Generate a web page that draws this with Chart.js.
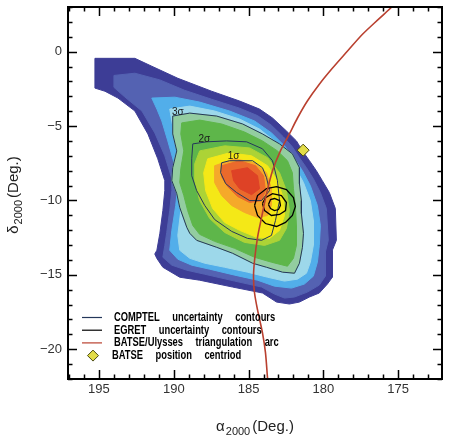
<!DOCTYPE html>
<html><head><meta charset="utf-8">
<script src="https://cdn.jsdelivr.net/npm/chart.js@4.4.1/dist/chart.umd.min.js"></script>
<style>html,body{margin:0;padding:0;background:#fff;}</style>
</head><body>
<canvas id="c" width="449" height="441"></canvas>
<script>
// ---- axis ticks ----
const xTicks = [195, 190, 185, 180, 175];
const yTicks = [0, -5, -10, -15, -20];

// ---- filled probability bands [RA, Dec], outermost first ----
const bandIndigo = [[195.27,-0.45],[192.6,-0.45],[191.47,-0.98],[189.73,-1.79],[187.47,-2.66],[185.6,-3.32],[184.27,-3.86],[183.4,-4.46],[182.47,-5.33],[181.8,-6.0],[181.4,-6.67],[180.93,-7.33],[180.47,-8.0],[180.07,-8.67],[179.6,-9.47],[179.2,-10.54],[179.13,-12.68],[179.4,-13.35],[179.4,-15.16],[179.73,-15.62],[180.27,-16.22],[180.93,-16.49],[181.6,-16.83],[182.27,-16.96],[183.13,-16.83],[184.07,-16.22],[186.07,-15.82],[188.27,-15.36],[189.6,-15.16],[190.73,-14.49],[191.13,-13.9],[191.27,-13.6],[191.13,-13.35],[190.93,-12.21],[190.73,-10.68],[190.6,-9.34],[190.6,-8.67],[191.07,-7.2],[191.73,-5.53],[192.6,-3.99],[193.73,-3.12],[194.6,-2.66],[195.27,-2.45]];
const bandSlate = [[194.0,-1.6],[192.6,-1.45],[190.93,-1.9],[189.27,-2.6],[187.47,-3.2],[185.6,-3.8],[184.4,-4.3],[183.47,-4.95],[182.67,-5.73],[182.07,-6.4],[181.6,-7.13],[181.13,-7.8],[180.67,-8.54],[180.2,-9.47],[179.8,-10.54],[179.67,-12.68],[179.87,-13.48],[179.87,-15.09],[180.27,-15.69],[181.07,-16.16],[181.93,-16.49],[182.6,-16.56],[183.27,-16.29],[184.13,-15.82],[185.93,-15.42],[187.93,-14.96],[189.13,-14.69],[190.13,-14.35],[190.73,-13.82],[190.6,-13.02],[190.47,-12.15],[190.27,-10.68],[190.13,-9.34],[190.13,-8.54],[190.6,-7.0],[191.27,-5.46],[192.13,-3.99],[193.27,-3.05],[194.0,-2.4]];
const bandLightBlue = [[191.47,-3.12],[189.93,-3.06],[188.27,-3.39],[186.27,-3.99],[184.6,-4.66],[183.47,-5.46],[182.6,-6.33],[181.93,-7.2],[181.4,-8.0],[180.87,-9.01],[180.4,-10.34],[180.2,-11.68],[180.27,-13.02],[180.4,-14.15],[180.67,-15.09],[181.27,-15.62],[182.13,-15.89],[183.27,-15.76],[184.4,-15.36],[185.93,-15.02],[187.6,-14.62],[188.8,-14.35],[189.73,-13.95],[190.27,-13.35],[190.13,-12.01],[189.87,-10.34],[189.73,-9.01],[189.93,-7.67],[190.4,-6.0],[190.8,-4.66],[191.13,-3.86]];
const bandCyan = [[190.27,-3.86],[188.93,-3.66],[187.27,-3.99],[185.6,-4.53],[184.27,-5.2],[183.27,-6.0],[182.47,-6.87],[181.87,-7.8],[181.33,-8.8],[180.87,-10.01],[180.67,-11.34],[180.67,-13.02],[180.87,-14.15],[181.13,-14.89],[181.73,-15.29],[182.6,-15.42],[183.73,-15.16],[185.07,-14.82],[186.6,-14.49],[187.93,-14.22],[188.93,-13.89],[189.6,-13.35],[189.73,-12.35],[189.53,-10.68],[189.33,-9.34],[189.47,-7.87],[189.87,-6.0],[190.13,-4.66]];
const bandGreen = [[189.47,-4.79],[188.27,-4.6],[186.8,-4.86],[185.27,-5.4],[184.07,-6.0],[183.07,-6.67],[182.4,-7.33],[182.07,-8.14],[182.0,-9.21],[181.87,-10.34],[181.8,-11.68],[181.8,-13.02],[182.0,-13.89],[182.4,-14.42],[183.47,-14.15],[184.6,-13.82],[185.93,-13.22],[187.27,-12.75],[188.27,-12.28],[188.73,-11.68],[189.07,-10.68],[189.33,-9.67],[189.6,-8.8],[189.53,-7.87],[189.33,-6.67],[189.53,-5.53]];
const bandLime = [[188.27,-6.67],[186.6,-6.33],[184.93,-6.47],[183.73,-7.13],[182.93,-8.14],[182.47,-9.34],[182.27,-10.68],[182.47,-11.88],[182.93,-12.68],[183.93,-13.02],[185.27,-12.82],[186.6,-12.15],[187.6,-11.21],[188.27,-10.01],[188.6,-8.67],[188.6,-7.54]];
const bandYellow = [[187.73,-7.2],[186.27,-6.8],[184.8,-7.0],[183.73,-7.67],[183.07,-8.67],[182.67,-9.87],[182.6,-11.01],[182.93,-12.01],[183.6,-12.55],[184.47,-12.48],[185.6,-12.01],[186.6,-11.48],[187.4,-10.54],[187.87,-9.34],[188.0,-8.14]];
const bandOrange = [[187.27,-7.67],[185.93,-7.2],[184.6,-7.47],[183.8,-8.14],[183.47,-9.21],[183.47,-10.34],[183.73,-11.01],[184.4,-11.14],[185.27,-10.81],[186.13,-10.34],[186.8,-9.67],[187.27,-8.8]];
const bandRedOrange = [[186.8,-7.67],[185.6,-7.33],[184.53,-7.67],[184.0,-8.34],[183.87,-9.34],[184.13,-10.01],[184.93,-10.14],[185.73,-9.74],[186.4,-9.07],[186.8,-8.4]];
const bandRed = [[186.13,-8.0],[185.07,-7.8],[184.4,-8.34],[184.27,-9.21],[184.8,-9.61],[185.6,-9.21],[186.0,-8.67]];

// ---- COMPTEL sigma contours ----
const sigma3 = [[190.07,-4.33],[188.93,-4.13],[187.13,-4.33],[185.4,-4.86],[184.07,-5.53],[182.93,-6.2],[182.07,-6.87],[181.6,-7.8],[181.6,-8.87],[181.47,-10.01],[181.47,-10.88],[181.33,-12.21],[181.4,-13.15],[181.6,-14.22],[181.93,-14.89],[182.73,-14.82],[183.8,-14.49],[184.73,-14.22],[186.07,-13.55],[187.13,-13.15],[188.47,-12.68],[188.93,-12.21],[189.13,-11.81],[189.6,-10.48],[189.8,-9.54],[190.13,-8.67],[190.07,-7.8],[189.8,-6.67],[190.07,-5.53]];
const sigma2 = [[188.73,-6.2],[187.8,-6.06],[186.47,-6.0],[185.13,-6.06],[184.07,-6.53],[183.4,-7.33],[183.07,-8.67],[182.93,-10.01],[183.2,-11.34],[183.47,-12.35],[184.13,-12.68],[185.07,-12.55],[186.13,-12.08],[187.27,-11.28],[187.93,-10.34],[188.47,-9.34],[188.8,-8.34],[188.8,-7.2]];
const sigma1 = [[186.8,-7.47],[186.27,-7.33],[184.73,-7.33],[184.07,-7.8],[183.8,-8.47],[183.6,-9.34],[184.13,-10.01],[184.93,-10.01],[185.8,-9.47],[186.53,-8.87],[186.87,-8.14]];
const sigmaLabels = ['1σ', '2σ', '3σ'];
const sigmaLabelRA = [186.0, 187.96, 189.73];
const sigmaLabelDec = [-7.03, -5.86, -4.06];

// ---- EGRET contours ----
const egretOuter = [[184.6,-10.34],[184.4,-9.67],[183.8,-9.2],[183.13,-9.07],[182.47,-9.27],[182.0,-9.81],[181.87,-10.41],[182.07,-11.01],[182.53,-11.48],[183.13,-11.75],[183.87,-11.55],[184.4,-11.01]];
const egretMid = [[184.07,-10.21],[183.87,-9.81],[183.4,-9.54],[182.8,-9.67],[182.47,-10.14],[182.53,-10.68],[182.93,-10.94],[183.47,-11.01],[183.93,-10.68]];
const egretInner = [[183.67,-10.28],[183.53,-9.94],[183.27,-9.87],[182.93,-10.01],[182.87,-10.34],[183.0,-10.61],[183.27,-10.68],[183.53,-10.54]];

// ---- BATSE / Ulysses triangulation arc ----
const arcRA  = [183.68,183.73,183.87,184.07,184.4,184.6,184.67,184.6,184.4,184.13,183.8,183.4,182.87,182.27,181.73,181.07,180.27,179.4,178.4,177.4,176.27,175.4,174.93];
const arcDec = [-22.4,-21.97,-20.23,-18.9,-17.36,-16.22,-15.16,-14.02,-12.48,-11.14,-9.54,-8.0,-6.67,-5.53,-4.46,-3.32,-2.19,-1.12,0.02,1.15,2.22,3.03,3.56];

// ---- BATSE position centroid ----
const batseRA = [181.35];
const batseDec = [-6.62];

// ---- legend ----
const legendLabels = ['COMPTEL uncertainty contours', 'EGRET uncertainty contours', 'BATSE/Ulysses triangulation arc', 'BATSE position centriod'];

// ---- styles ----
const bandList = [bandIndigo, bandSlate, bandLightBlue, bandCyan, sigma3, bandGreen, bandLime, bandYellow, bandOrange, bandRedOrange, bandRed];
const bandColors = ['#3d3d96', '#5462b2', '#52aeea', '#9dd8ea', '#93cda0', '#5eb64a', '#acd336', '#f4e817', '#f5a92a', '#ea6a2c', '#de4226'];
const comptelColor = '#24375a';
const egretColor = '#000000';
const arcColor = '#b9402f';

const toXY = arr => arr.map(p => ({x: p[0], y: p[1]}));
const closed = arr => toXY(arr.concat([arr[0]]));

const datasets = [];
datasets.push({data: batseRA.map((r,i)=>({x:r, y:batseDec[i]})), pointStyle:'rectRot', pointRadius:6, backgroundColor:'#e2dc48', borderColor:'#4a4a10', borderWidth:1, showLine:false, order:0});
datasets.push({data: arcRA.map((r,i)=>({x:r, y:arcDec[i]})), showLine:true, borderColor:arcColor, borderWidth:1.6, pointRadius:0, tension:0.3, fill:false, order:1});
[egretOuter, egretMid, egretInner].forEach(c => datasets.push({data: closed(c), showLine:true, borderColor:egretColor, borderWidth:1.3, pointRadius:0, tension:0, fill:false, order:2}));
[sigma1, sigma2, sigma3].forEach(c => datasets.push({data: closed(c), showLine:true, borderColor:comptelColor, borderWidth:1, pointRadius:0, tension:0, fill:false, order:3}));
bandList.forEach((b,i) => datasets.push({data: closed(b), showLine:true, borderColor:bandColors[i], backgroundColor:bandColors[i], borderWidth:1, pointRadius:0, tension:0, fill:'shape', order:100-i}));

const FONT = '"Liberation Sans", Arial, Helvetica, sans-serif';

const deco = {
  id: 'deco',
  afterDatasetsDraw(chart) {
    const {ctx, chartArea: a, scales: {x, y}} = chart;
    ctx.save();
    // sigma labels
    ctx.font = '10px ' + FONT;
    ctx.fillStyle = '#1a1a1a';
    ctx.textAlign = 'center';
    ctx.textBaseline = 'middle';
    sigmaLabels.forEach((t, i) => ctx.fillText(t, x.getPixelForValue(sigmaLabelRA[i]), y.getPixelForValue(sigmaLabelDec[i])));

    // legend
    const lineColors = [comptelColor, egretColor, arcColor];
    const rowY = i => a.bottom - 61.5 + i * 12.7;
    for (let i = 0; i < 4; i++) {
      const yy = rowY(i);
      if (i < 3) {
        ctx.strokeStyle = lineColors[i];
        ctx.lineWidth = 1.2;
        ctx.beginPath(); ctx.moveTo(a.left + 14, yy); ctx.lineTo(a.left + 34, yy); ctx.stroke();
      } else {
        const cx = a.left + 25, r = 5.5;
        ctx.beginPath(); ctx.moveTo(cx, yy - r); ctx.lineTo(cx + r, yy); ctx.lineTo(cx, yy + r); ctx.lineTo(cx - r, yy); ctx.closePath();
        ctx.fillStyle = '#e2dc48'; ctx.fill(); ctx.strokeStyle = '#4a4a10'; ctx.lineWidth = 1; ctx.stroke();
      }
      ctx.save();
      ctx.translate(a.left + (i < 3 ? 46 : 44), yy);
      ctx.scale(0.78, 1);
      ctx.font = 'bold 12px ' + FONT;
      ctx.fillStyle = '#000';
      ctx.textAlign = 'left';
      ctx.textBaseline = 'middle';
      let cx = 0;
      legendLabels[i].split(' ').forEach(w => { ctx.fillText(w, cx, 0); cx += ctx.measureText(w).width + 16; });
      ctx.restore();
    }

    // frame + inward ticks
    ctx.strokeStyle = '#000';
    ctx.lineWidth = 2;
    ctx.strokeRect(a.left, a.top, a.right - a.left, a.bottom - a.top);
    ctx.lineWidth = 1.5;
    ctx.beginPath();
    for (let v = Math.ceil(x.min); v <= Math.floor(x.max); v++) {
      const px = Math.round(x.getPixelForValue(v)) + 0.5, len = v % 5 === 0 ? 9 : 4.5;
      ctx.moveTo(px, a.bottom); ctx.lineTo(px, a.bottom - len);
      ctx.moveTo(px, a.top); ctx.lineTo(px, a.top + len);
    }
    for (let v = Math.ceil(y.min); v <= Math.floor(y.max); v++) {
      const py = Math.round(y.getPixelForValue(v)) + 0.5, len = v % 5 === 0 ? 9 : 4.5;
      ctx.moveTo(a.left, py); ctx.lineTo(a.left + len, py);
      ctx.moveTo(a.right, py); ctx.lineTo(a.right - len, py);
    }
    ctx.stroke();

    // axis titles with subscripts
    const drawTitle = (sym) => {
      ctx.textAlign = 'left';
      ctx.textBaseline = 'alphabetic';
      ctx.fillStyle = '#222';
      ctx.font = '15px ' + FONT;
      const w1 = ctx.measureText(sym).width;
      const w3 = ctx.measureText('(Deg.)').width;
      ctx.font = '11px ' + FONT;
      const w2 = ctx.measureText('2000').width;
      const total = w1 + 1 + w2 + 2 + w3;
      let cx = -total / 2;
      ctx.font = '15px ' + FONT; ctx.fillText(sym, cx, 0); cx += w1 + 1;
      ctx.font = '11px ' + FONT; ctx.fillText('2000', cx, 4); cx += w2 + 2;
      ctx.font = '15px ' + FONT; ctx.fillText('(Deg.)', cx, 0);
    };
    ctx.save();
    ctx.translate((a.left + a.right) / 2, 431);
    drawTitle('α');
    ctx.restore();
    ctx.save();
    ctx.translate(18, (a.top + a.bottom) / 2 + 2);
    ctx.rotate(-Math.PI / 2);
    drawTitle('δ');
    ctx.restore();

    ctx.restore();
  }
};

new Chart(document.getElementById('c'), {
  type: 'scatter',
  data: {datasets},
  options: {
    responsive: false,
    animation: false,
    events: [],
    layout: {padding: {top: 5, right: 6, left: 0, bottom: 0}},
    plugins: {legend: {display: false}, tooltip: {enabled: false}, filler: {propagate: false}},
    scales: {
      x: {
        type: 'linear', reverse: true, min: 172.07, max: 197.07,
        grid: {display: false, drawTicks: false}, border: {display: false},
        afterBuildTicks: s => { s.ticks = xTicks.map(v => ({value: v})); },
        afterFit: s => { s.height = 62; s.paddingLeft = 0; s.paddingRight = 0; },
        ticks: {padding: 3, color: '#333', font: {family: FONT, size: 13}, callback: v => String(v).replace('-', '\u2212')}
      },
      y: {
        type: 'linear', min: -22, max: 3,
        grid: {display: false, drawTicks: false}, border: {display: false},
        afterBuildTicks: s => { s.ticks = yTicks.map(v => ({value: v})); },
        afterFit: s => { s.width = 68; s.paddingTop = 0; s.paddingBottom = 0; },
        ticks: {padding: 6, color: '#333', font: {family: FONT, size: 13}, callback: v => String(v).replace('-', '\u2212')}
      }
    }
  },
  plugins: [deco]
});
</script>
</body></html>
